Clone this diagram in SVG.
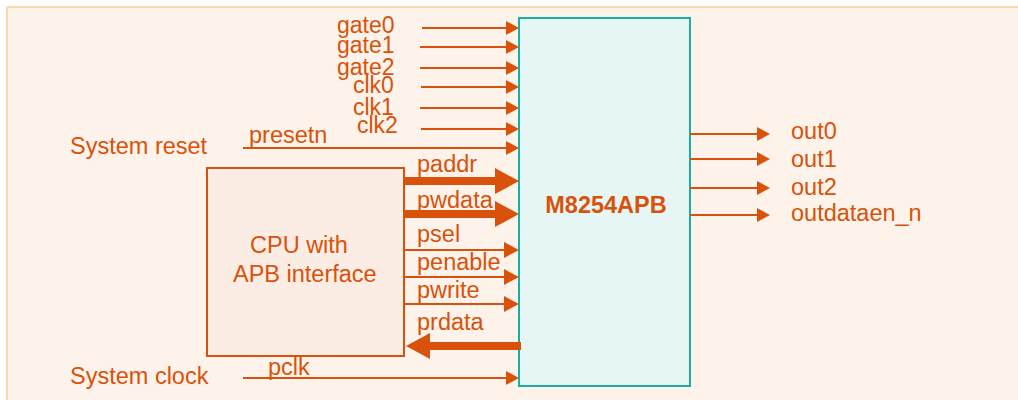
<svg xmlns="http://www.w3.org/2000/svg" width="1018" height="402" viewBox="0 0 1018 402">
<style>
text{font-family:"Liberation Sans",Arial,sans-serif;font-size:23.5px;fill:#D9520B}
.s{font-size:23px}
.b{font-weight:bold}
.w{stroke:#D9520B;stroke-width:2;fill:none}
.t{stroke:#D9520B;stroke-width:8;fill:none}
.h{fill:#D9520B}
</style>
<rect x="0" y="0" width="1018" height="402" fill="#FFFFFF"/>
<rect x="7" y="7" width="1013" height="393" fill="#FEF3EA"/>
<line x1="7" y1="7" x2="1018" y2="7" stroke="#FDD6AE" stroke-width="2"/>
<line x1="7" y1="7" x2="7" y2="400" stroke="#FDD6AE" stroke-width="2"/>

<g id="m8254apb">
<rect x="519" y="18" width="171" height="368" fill="#E6F6F4" stroke="#1AAE9F" stroke-width="2"/>
<text class="b" x="606" y="213" text-anchor="middle">M8254APB</text>
</g>

<g id="cpu">
<rect x="207" y="168" width="197" height="188" fill="#FBEDE4" stroke="#D9520B" stroke-width="2"/>
<text x="250" y="253">CPU with</text>
<text x="233" y="282">APB interface</text>
</g>

<g id="system-reset"><text x="70" y="154">System reset</text></g>
<g id="system-clock"><text x="70" y="384">System clock</text></g>

<g id="labels">
<text class="s" x="337" y="33">gate0</text>
<text class="s" x="337" y="53">gate1</text>
<text class="s" x="337" y="75">gate2</text>
<text class="s" x="353" y="93">clk0</text>
<text class="s" x="353" y="115">clk1</text>
<text class="s" x="357" y="133">clk2</text>
<text x="249" y="143">presetn</text>
<text x="417" y="172">paddr</text>
<text x="417" y="208">pwdata</text>
<text x="417" y="242">psel</text>
<text x="417" y="270">penable</text>
<text x="417" y="298">pwrite</text>
<text x="417" y="330">prdata</text>
<text x="268" y="375">pclk</text>
<text x="791" y="139">out0</text>
<text x="791" y="167">out1</text>
<text x="791" y="195">out2</text>
<text x="791" y="221">outdataen_n</text>
</g>

<g id="connectors">
<line class="w" x1="422" y1="28" x2="506" y2="28"/><polygon class="h" points="506,21 519,28 506,35"/>
<line class="w" x1="420" y1="47" x2="506" y2="47"/><polygon class="h" points="506,40 519,47 506,54"/>
<line class="w" x1="420" y1="68" x2="506" y2="68"/><polygon class="h" points="506,61 519,68 506,75"/>
<line class="w" x1="421" y1="87" x2="506" y2="87"/><polygon class="h" points="506,80 519,87 506,94"/>
<line class="w" x1="420" y1="108" x2="506" y2="108"/><polygon class="h" points="506,101 519,108 506,115"/>
<line class="w" x1="421" y1="129" x2="506" y2="129"/><polygon class="h" points="506,122 519,129 506,136"/>
<line class="w" x1="243" y1="148" x2="506" y2="148"/><polygon class="h" points="506,141 519,148 506,155"/>

<line class="t" x1="404" y1="181" x2="496" y2="181"/><polygon class="h" points="495,168 519,181 495,194"/>
<line class="t" x1="404" y1="214" x2="496" y2="214"/><polygon class="h" points="495,201 519,214 495,227"/>
<line class="w" x1="404" y1="250" x2="505" y2="250"/><polygon class="h" points="504,242 519,250 504,258"/>
<line class="w" x1="404" y1="277" x2="505" y2="277"/><polygon class="h" points="504,269 519,277 504,285"/>
<line class="w" x1="404" y1="304" x2="505" y2="304"/><polygon class="h" points="504,296 519,304 504,312"/>
<line class="t" x1="521" y1="346" x2="429" y2="346"/><polygon class="h" points="430,333 406,346 430,359"/>
<line class="w" x1="243" y1="378" x2="506" y2="378"/><polygon class="h" points="506,371 519,378 506,385"/>

<line class="w" x1="690" y1="134" x2="757" y2="134"/><polygon class="h" points="757,127 770,134 757,141"/>
<line class="w" x1="690" y1="159" x2="757" y2="159"/><polygon class="h" points="757,152 770,159 757,166"/>
<line class="w" x1="690" y1="188" x2="757" y2="188"/><polygon class="h" points="757,181 770,188 757,195"/>
<line class="w" x1="690" y1="215" x2="757" y2="215"/><polygon class="h" points="757,208 770,215 757,222"/>
</g>
</svg>
